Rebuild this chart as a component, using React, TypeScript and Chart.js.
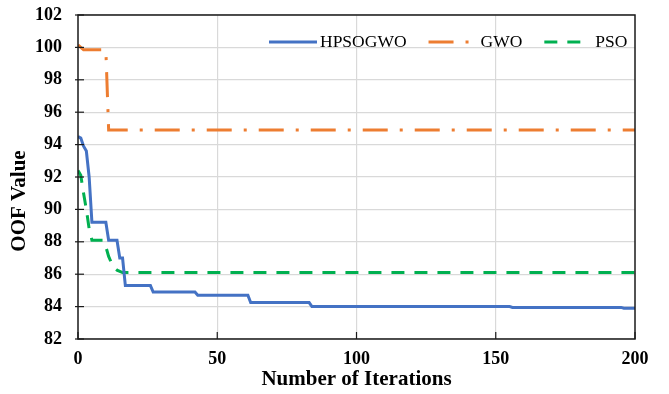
import React, { useEffect, useRef } from "react";
import { Chart, registerables } from "chart.js";

Chart.register(...registerables);

// ---- Data ----
const hpsogwoIterations = [0, 1, 2, 3, 4, 5, 10, 11, 14, 15, 16, 17, 26, 27, 42, 43, 61, 62, 83, 84, 155, 156, 195, 196, 200];
const hpsogwoValues = [94.5, 94.4, 93.9, 93.6, 92.0, 89.2, 89.2, 88.1, 88.1, 87.0, 87.0, 85.3, 85.3, 84.9, 84.9, 84.7, 84.7, 84.25, 84.25, 84.0, 84.0, 83.95, 83.95, 83.9, 83.9];

const gwoIterations = [0, 1, 2, 10, 11, 200];
const gwoValues = [100.15, 100.0, 99.85, 99.85, 94.9, 94.9];

const psoIterations = [0, 1, 2, 3, 4, 5, 9, 10, 11, 12, 13, 14, 16, 200];
const psoValues = [92.4, 92.1, 91.0, 90.0, 88.8, 88.1, 88.1, 87.7, 87.1, 86.7, 86.4, 86.25, 86.1, 86.1];

const seriesNames = ["HPSOGWO", "GWO", "PSO"];
const seriesColors = ["#4472C4", "#ED7D31", "#00B050"];
const seriesDashes: number[][] = [[], [25, 12, 3, 12], [13, 10]];

const xTicks = [0, 50, 100, 150, 200];
const yMin = 82;
const yMax = 102;
const yStep = 2;

const xTitle = "Number of Iterations";
const yTitle = "OOF Value";

const FONT = "'Liberation Serif', 'Times New Roman', serif";

function toPoints(xs: number[], ys: number[]) {
  return xs.map((x, i) => ({ x, y: ys[i] }));
}

const framePlugin = {
  id: "framePlugin",
  afterDatasetsDraw(chart: any) {
    const { ctx, chartArea, scales } = chart;
    const { left, right, top, bottom } = chartArea;
    ctx.save();
    // frame
    ctx.strokeStyle = "#1a1a1a";
    ctx.lineWidth = 1.5;
    ctx.setLineDash([]);
    ctx.strokeRect(left, top, right - left, bottom - top);
    // tick marks (y crossing, x inside)
    ctx.lineWidth = 1.2;
    const yScale = scales.y;
    for (let v = yMin; v <= yMax; v += yStep) {
      const py = yScale.getPixelForValue(v);
      ctx.beginPath();
      ctx.moveTo(left - 3, py);
      ctx.lineTo(left + 6, py);
      ctx.stroke();
    }
    const xScale = scales.x;
    xTicks.forEach((v) => {
      const px = xScale.getPixelForValue(v);
      ctx.beginPath();
      ctx.moveTo(px, bottom);
      ctx.lineTo(px, bottom - 7);
      ctx.stroke();
    });

    // y-axis title
    ctx.fillStyle = "#000";
    ctx.font = `bold 21px ${FONT}`;
    ctx.textAlign = "center";
    ctx.textBaseline = "middle";
    ctx.translate(20, (top + bottom) / 2 + 24);
    ctx.rotate(-Math.PI / 2);
    ctx.fillText(yTitle, 0, 0);
    ctx.restore();

    // legend
    ctx.save();
    ctx.font = `17.5px ${FONT}`;
    ctx.textBaseline = "middle";
    ctx.textAlign = "left";
    ctx.fillStyle = "#000";
    const ly = top + 27;
    const sampleW = [48, 40, 40];
    const gapAfter = [3, 12, 11];
    const gapBetween = 22;
    let x = left + 191;
    seriesNames.forEach((name, i) => {
      ctx.strokeStyle = seriesColors[i];
      ctx.lineWidth = 3;
      ctx.setLineDash(seriesDashes[i]);
      ctx.beginPath();
      ctx.moveTo(x, ly);
      ctx.lineTo(x + sampleW[i], ly);
      ctx.stroke();
      x += sampleW[i] + gapAfter[i];
      ctx.fillText(name, x, ly);
      x += ctx.measureText(name).width + gapBetween;
    });
    ctx.restore();
  },
};

export default function App() {
  const canvasRef = useRef<HTMLCanvasElement | null>(null);

  useEffect(() => {
    document.body.style.margin = "0";
    const canvas = canvasRef.current;
    if (!canvas) return;
    const datasets = [
      toPoints(hpsogwoIterations, hpsogwoValues),
      toPoints(gwoIterations, gwoValues),
      toPoints(psoIterations, psoValues),
    ].map((data, i) => ({
      label: seriesNames[i],
      data,
      borderColor: seriesColors[i],
      backgroundColor: seriesColors[i],
      borderWidth: 3,
      borderDash: seriesDashes[i],
      pointRadius: 0,
      tension: 0,
      fill: false,
    }));

    const chart = new Chart(canvas, {
      type: "line",
      data: { datasets },
      options: {
        animation: false,
        responsive: true,
        maintainAspectRatio: false,
        layout: { padding: { top: 15, right: 34, left: 0, bottom: 0 } },
        plugins: {
          legend: { display: false },
          tooltip: { enabled: false },
        },
        scales: {
          x: {
            type: "linear",
            min: 0,
            max: 200,
            afterFit: (scale: any) => {
              scale.height = 55;
              scale.paddingLeft = 0;
              scale.paddingRight = 0;
            },
            afterBuildTicks: (scale: any) => {
              scale.ticks = xTicks.map((v) => ({ value: v }));
            },
            ticks: {
              color: "#000",
              padding: 10,
              font: { family: FONT, size: 18, weight: "bold" },
              maxRotation: 0,
            },
            grid: {
              color: (c: any) =>
                c.tick && (c.tick.value === 0 || c.tick.value === 200) ? "rgba(0,0,0,0)" : "#D9D9D9",
              lineWidth: 1.2,
              drawTicks: false,
            },
            border: { display: false },
            title: {
              display: true,
              text: xTitle,
              color: "#000",
              font: { family: FONT, size: 21, weight: "bold" },
              padding: { top: 0, bottom: 2 },
            },
          },
          y: {
            min: yMin,
            max: yMax,
            afterFit: (scale: any) => {
              scale.width = 78;
              scale.paddingTop = 0;
              scale.paddingBottom = 0;
            },
            ticks: {
              stepSize: yStep,
              color: "#000",
              padding: 16,
              font: { family: FONT, size: 18, weight: "bold" },
            },
            grid: {
              color: "#D9D9D9",
              lineWidth: 1.2,
              drawTicks: false,
            },
            border: { display: false },
          },
        },
      },
      plugins: [framePlugin],
    });
    return () => chart.destroy();
  }, []);

  return (
    <div style={{ width: 669, height: 394, position: "relative" }}>
      <canvas ref={canvasRef} />
    </div>
  );
}
